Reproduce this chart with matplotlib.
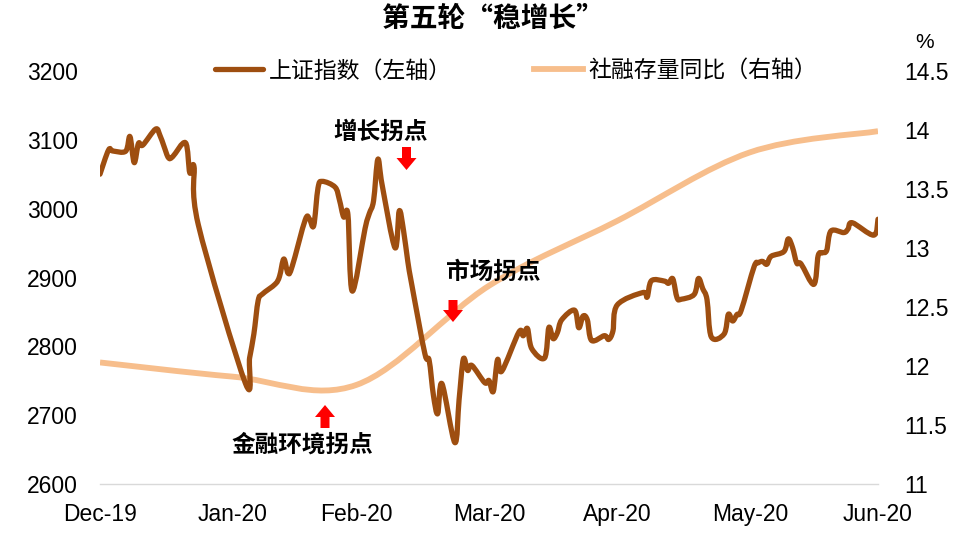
#coding=utf-8
'''第五轮"稳增长": 上证指数 vs 社融存量同比'''
import numpy as np
import pandas as pd
import matplotlib
matplotlib.use('Agg')
import matplotlib.pyplot as plt
import matplotlib.dates as mdates
from matplotlib.path import Path
from matplotlib.patches import PathPatch, FancyArrow
from matplotlib.lines import Line2D

plt.rcParams['font.family'] = ['Liberation Sans', 'Noto Sans CJK SC', 'DejaVu Sans']

CJK = ['Noto Sans CJK SC', 'DejaVu Sans']
BROWN = '#9E4E10'
PEACH = '#F7BE8C'
RED = '#FF0000'

# 上证指数 (left axis), daily close
sse_dates = [
    '2019-12-31',
    '2020-01-02', '2020-01-03', '2020-01-06', '2020-01-07', '2020-01-08', '2020-01-09',
    '2020-01-10', '2020-01-13', '2020-01-14', '2020-01-15', '2020-01-16', '2020-01-17',
    '2020-01-20', '2020-01-21', '2020-01-22', '2020-01-23',
    '2020-02-03', '2020-02-04', '2020-02-05', '2020-02-06', '2020-02-07', '2020-02-10',
    '2020-02-11', '2020-02-12', '2020-02-13', '2020-02-14', '2020-02-17', '2020-02-18',
    '2020-02-19', '2020-02-20', '2020-02-21', '2020-02-24', '2020-02-25', '2020-02-26',
    '2020-02-27', '2020-02-28',
    '2020-03-02', '2020-03-03', '2020-03-04', '2020-03-05', '2020-03-06', '2020-03-09',
    '2020-03-10', '2020-03-11', '2020-03-12', '2020-03-13', '2020-03-16', '2020-03-17',
    '2020-03-18', '2020-03-19', '2020-03-20', '2020-03-23', '2020-03-24', '2020-03-25',
    '2020-03-26', '2020-03-27', '2020-03-30', '2020-03-31',
    '2020-04-01', '2020-04-02', '2020-04-03', '2020-04-07', '2020-04-08', '2020-04-09',
    '2020-04-10', '2020-04-13', '2020-04-14', '2020-04-15', '2020-04-16', '2020-04-17',
    '2020-04-20', '2020-04-21', '2020-04-22', '2020-04-23', '2020-04-24', '2020-04-27',
    '2020-04-28', '2020-04-29', '2020-04-30',
    '2020-05-06', '2020-05-07', '2020-05-08', '2020-05-11', '2020-05-12', '2020-05-13',
    '2020-05-14', '2020-05-15', '2020-05-18', '2020-05-19', '2020-05-20', '2020-05-21',
    '2020-05-22', '2020-05-25', '2020-05-26', '2020-05-27', '2020-05-28', '2020-05-29',
    '2020-06-01', '2020-06-02', '2020-06-03', '2020-06-04', '2020-06-05', '2020-06-08',
    '2020-06-09', '2020-06-10', '2020-06-11', '2020-06-12', '2020-06-15', '2020-06-16',
    '2020-06-17', '2020-06-18', '2020-06-19', '2020-06-22', '2020-06-23', '2020-06-24',
    '2020-06-29', '2020-06-30',
]
sse_close = [
    3050.12,
    3085.20, 3083.79, 3083.41, 3104.80, 3066.89, 3094.88,
    3092.29, 3115.57, 3106.82, 3090.04, 3074.08, 3075.50,
    3095.79, 3052.14, 3060.75, 2976.53,
    2746.61, 2783.29, 2818.09, 2866.51, 2875.96, 2890.49,
    2901.67, 2926.90, 2906.07, 2917.01, 2983.62, 2984.97,
    2975.40, 3030.15, 3039.67, 3031.23, 3013.05, 2987.93,
    2991.33, 2880.30,
    2970.93, 2992.90, 3011.67, 3071.68, 3034.51, 2943.29,
    2996.76, 2968.52, 2923.49, 2887.43, 2789.25, 2779.64,
    2728.76, 2702.13, 2745.62, 2660.17, 2722.44, 2781.59,
    2764.91, 2772.20, 2747.21, 2750.30,
    2734.52, 2780.64, 2763.99, 2820.76, 2815.37, 2825.90,
    2796.63, 2783.05, 2827.28, 2811.17, 2819.94, 2838.49,
    2852.55, 2827.01, 2843.98, 2838.50, 2808.53, 2815.49,
    2810.02, 2822.44, 2860.08,
    2878.14, 2871.52, 2895.34, 2894.80, 2891.56, 2898.05,
    2870.34, 2868.46, 2875.42, 2898.58, 2883.74, 2867.92,
    2813.77, 2817.97, 2846.55, 2836.80, 2846.22, 2852.35,
    2915.43, 2921.40, 2923.37, 2919.25, 2930.80, 2937.77,
    2956.11, 2943.75, 2920.90, 2919.74, 2890.03, 2931.75,
    2935.87, 2939.32, 2967.63, 2965.27, 2970.62, 2979.55,
    2961.52, 2984.67,
]

# 社融存量同比 (right axis, %), month end
sf_dates = ['2019-12-31', '2020-01-31', '2020-02-29', '2020-03-31',
            '2020-04-30', '2020-05-31', '2020-06-30']
sf_yoy = [12.03, 11.91, 11.84, 12.68, 13.23, 13.81, 13.99]

tick_dates = ['2019-12-31', '2020-01-31', '2020-02-29', '2020-03-31',
              '2020-04-30', '2020-05-31', '2020-06-30']
tick_labels = ['Dec-19', 'Jan-20', 'Feb-20', 'Mar-20', 'Apr-20', 'May-20', 'Jun-20']

left_ticks = [2600, 2700, 2800, 2900, 3000, 3100, 3200]
right_ticks = [11, 11.5, 12, 12.5, 13, 13.5, 14, 14.5]

#############################################


def smooth_path(x, y):
    # excel-like smoothed line: cubic bezier, catmull-rom control points
    x = np.asarray(x, float)
    y = np.asarray(y, float)
    verts = [(x[0], y[0])]
    codes = [Path.MOVETO]
    n = len(x)
    for i in range(n - 1):
        i0 = max(i - 1, 0)
        i3 = min(i + 2, n - 1)
        c1 = (x[i] + (x[i + 1] - x[i0]) / 6, y[i] + (y[i + 1] - y[i0]) / 6)
        c2 = (x[i + 1] - (x[i3] - x[i]) / 6, y[i + 1] - (y[i3] - y[i]) / 6)
        verts += [c1, c2, (x[i + 1], y[i + 1])]
        codes += [Path.CURVE4] * 3
    return Path(verts, codes)


def red_arrow(fig, xc, y_tail, y_tip):
    # block arrow, pixel coords (top-left origin) -> figure fraction
    W, H = 960.0, 544.0
    arr = FancyArrow(xc / W, 1 - y_tail / H, 0, (y_tail - y_tip) / H,
                     width=9 / W, head_width=20 / W, head_length=12 / H,
                     length_includes_head=True, color=RED, lw=0,
                     transform=fig.transFigure)
    fig.add_artist(arr)


#############################################

fig = plt.figure(figsize=(9.6, 5.44), dpi=100)
ax = fig.add_axes([100 / 960, 60 / 544, 778 / 960, 413 / 544])
ax2 = ax.twinx()

x_sse = mdates.date2num(pd.to_datetime(sse_dates))
x_sf = mdates.date2num(pd.to_datetime(sf_dates))

ax.add_patch(PathPatch(smooth_path(x_sse, sse_close), fill=False, edgecolor=BROWN,
                       lw=3.8, joinstyle='round', capstyle='round', zorder=3))
ax2.add_patch(PathPatch(smooth_path(x_sf, sf_yoy), fill=False, edgecolor=PEACH,
                        lw=4.2, capstyle='butt', zorder=2))
ax.set_zorder(ax2.get_zorder() + 1)
ax.patch.set_visible(False)

ax.set_xlim(x_sf[0], x_sf[-1])
ax.set_ylim(2600, 3200)
ax2.set_ylim(11, 14.5)

ax.set_xticks(mdates.date2num(pd.to_datetime(tick_dates)))
ax.set_xticklabels(tick_labels)
ax.set_yticks(left_ticks)
ax.set_yticklabels([str(v) for v in left_ticks])
ax2.set_yticks(right_ticks)
ax2.set_yticklabels(['%g' % v for v in right_ticks])

ax.tick_params(axis='x', length=0, pad=14, labelsize=16.5, colors='black')
ax.tick_params(axis='y', length=0, pad=16, labelsize=16.5)
ax2.tick_params(axis='y', length=0, pad=19, labelsize=16.5)

for a in (ax, ax2):
    for s in ('top', 'left', 'right'):
        a.spines[s].set_visible(False)
ax2.spines['bottom'].set_visible(False)
ax.spines['bottom'].set_color('#D9D9D9')
ax.spines['bottom'].set_linewidth(1.0)

# title, unit
fig.text(493 / 960, 1 - 19 / 544, '第五轮“稳增长”', ha='center', va='center',
         fontsize=20, fontweight='bold', family=CJK)
fig.text(925 / 960, 1 - 42 / 544, '%', ha='center', va='center', fontsize=15)

# legend
handles = [Line2D([], [], color=BROWN, lw=3.8, solid_capstyle='round'),
           Line2D([], [], color=PEACH, lw=4.2)]
leg = fig.legend(handles, ['上证指数（左轴）', '社融存量同比（右轴）'],
                 loc='center', bbox_to_anchor=(516 / 960, 1 - 71 / 544), ncol=2,
                 frameon=False, handlelength=2.1, handletextpad=0.25,
                 columnspacing=3.6, prop={'family': CJK, 'size': 16.5})

# annotations
fig.text(381 / 960, 1 - 132 / 544, '增长拐点', ha='center', va='center',
         fontsize=17, fontweight='bold', family=CJK)
red_arrow(fig, 406.5, 147, 170)

fig.text(493 / 960, 1 - 272 / 544, '市场拐点', ha='center', va='center',
         fontsize=17, fontweight='bold', family=CJK)
red_arrow(fig, 453, 300, 322)

fig.text(302 / 960, 1 - 445 / 544, '金融环境拐点', ha='center', va='center',
         fontsize=17, fontweight='bold', family=CJK)
red_arrow(fig, 325, 428, 405)

fig.savefig('out.png', dpi=100)
